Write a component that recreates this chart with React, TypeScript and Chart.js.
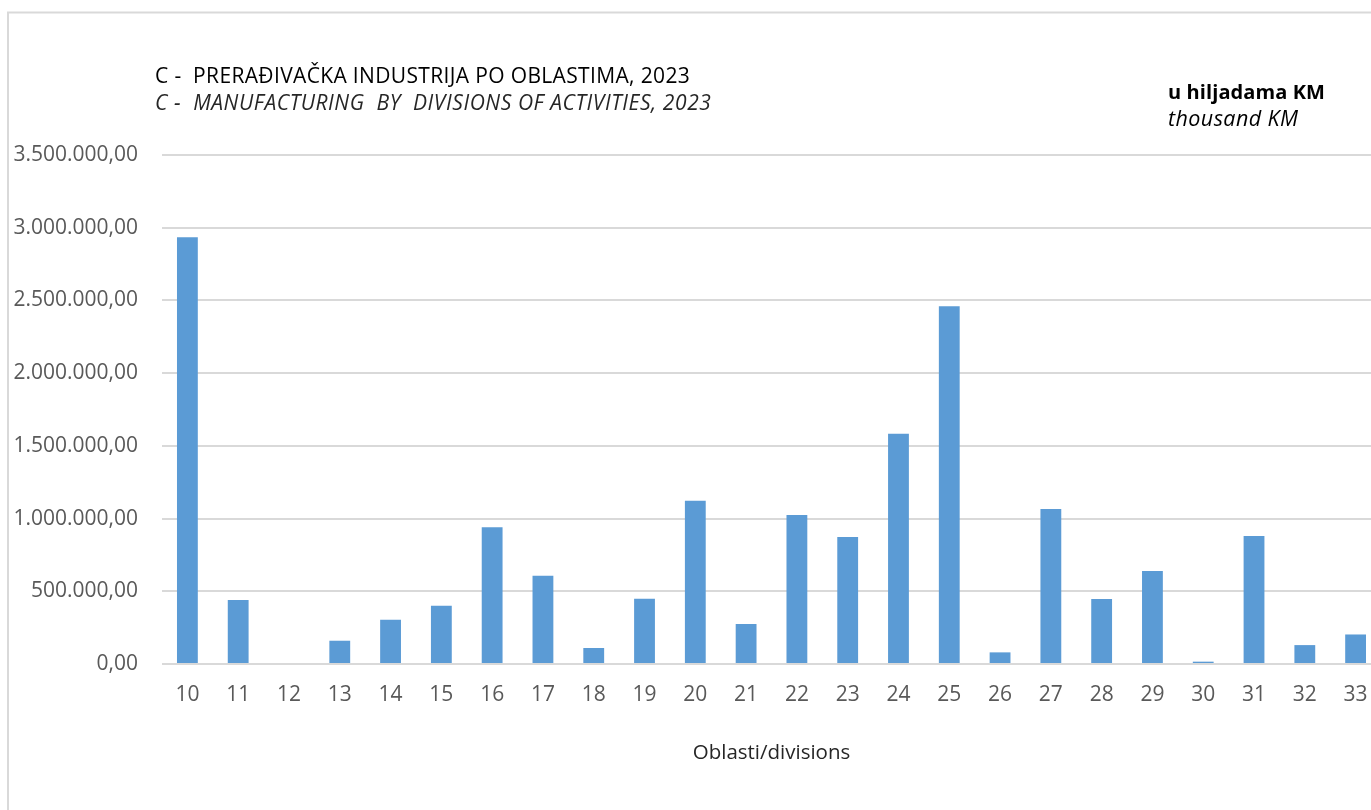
import React, { useEffect, useRef } from "react";
import { Chart, registerables } from "chart.js";

Chart.register(...registerables);

const categories = ["10", "11", "12", "13", "14", "15", "16", "17", "18", "19", "20", "21", "22", "23", "24", "25", "26", "27", "28", "29", "30", "31", "32", "33"];
const values = [2935000, 440000, 0, 160000, 304000, 401000, 941000, 607000, 110000, 449000, 1122000, 275000, 1024000, 873000, 1583000, 2460000, 80000, 1065000, 447000, 639000, 16000, 880000, 130000, 203000];
const yMax = 3500000;
const yStep = 500000;
const titleSr = "C -  PRERAĐIVAČKA INDUSTRIJA PO OBLASTIMA, 2023";
const titleEn = "C -  MANUFACTURING  BY  DIVISIONS OF ACTIVITIES, 2023";
const unitSr = "u hiljadama KM";
const unitEn = "thousand KM";
const xAxisTitle = "Oblasti/divisions";

const FONT = "'Open Sans', sans-serif";

function formatNumber(v: number): string {
  const fixed = Math.abs(v).toFixed(2);
  const [intPart, dec] = fixed.split(".");
  const grouped = intPart.replace(/\B(?=(\d{3})+(?!\d))/g, ".");
  return (v < 0 ? "-" : "") + grouped + "," + dec;
}

function fitText(ctx: any, text: string, x: number, y: number, targetWidth: number) {
  ctx.letterSpacing = "0px";
  const w = ctx.measureText(text).width;
  const n = Math.max(1, text.length - 1);
  const ls = (targetWidth - w) / n;
  ctx.letterSpacing = `${Math.max(-1, Math.min(1, ls)).toFixed(2)}px`;
  ctx.fillText(text, x, y);
  ctx.letterSpacing = "0px";
}

const headerPlugin = {
  id: "headerPlugin",
  beforeDraw(chart: any) {
    const ctx = chart.ctx;
    ctx.save();
    ctx.fillStyle = "#ffffff";
    ctx.fillRect(0, 0, chart.width, chart.height);
    ctx.strokeStyle = "#d9d9d9";
    ctx.lineWidth = 2;
    ctx.beginPath();
    ctx.moveTo(8, chart.height + 5);
    ctx.lineTo(8, 12.5);
    ctx.lineTo(chart.width + 5, 12.5);
    ctx.stroke();
    ctx.restore();
  },
  afterDraw(chart: any) {
    const ctx = chart.ctx;
    ctx.save();
    ctx.textAlign = "left";
    ctx.textBaseline = "alphabetic";
    ctx.fillStyle = "#000000";
    ctx.font = `21px ${FONT}`;
    fitText(ctx, titleSr, 155, 83, 535);
    ctx.fillStyle = "#262626";
    ctx.font = `italic 21px ${FONT}`;
    fitText(ctx, titleEn, 155, 110, 556);
    ctx.fillStyle = "#000000";
    ctx.font = `bold 20px ${FONT}`;
    fitText(ctx, unitSr, 1168, 99, 157);
    ctx.font = `italic 21.5px ${FONT}`;
    fitText(ctx, unitEn, 1168, 126, 130);
    ctx.restore();
  },
};

export default function App() {
  const canvasRef = useRef<HTMLCanvasElement | null>(null);

  useEffect(() => {
    if (!canvasRef.current) return;
    const chart = new Chart(canvasRef.current, {
      type: "bar",
      data: {
        labels: categories,
        datasets: [
          {
            data: values,
            backgroundColor: "#5b9bd5",
            borderWidth: 0,
            barPercentage: 1,
            categoryPercentage: 0.41,
          },
        ],
      },
      options: {
        animation: false,
        responsive: false,
        maintainAspectRatio: false,
        layout: { padding: { left: 0, top: 155, right: 19, bottom: 45 } },
        plugins: {
          legend: { display: false },
          tooltip: { enabled: false },
          title: { display: false },
        },
        scales: {
          x: {
            grid: { display: false, drawTicks: false },
            border: { display: false },
            ticks: {
              color: "#595959",
              font: { family: FONT, size: 21 },
              padding: 18,
              maxRotation: 0,
              autoSkip: false,
            },
            title: {
              display: true,
              text: xAxisTitle,
              color: "#262626",
              font: { family: FONT, size: 20.5 },
              padding: 0,
            },
            afterFit(scale: any) {
              scale.height = 101;
            },
          },
          y: {
            min: 0,
            max: yMax,
            grid: { color: "#d9d9d9", lineWidth: 2, drawTicks: false },
            border: { display: false },
            ticks: {
              stepSize: yStep,
              color: "#595959",
              font: { family: FONT, size: 21 },
              padding: 24,
              callback: (v: any) => formatNumber(Number(v)),
            },
            afterFit(scale: any) {
              scale.width = 162;
            },
          },
        },
      },
      plugins: [headerPlugin],
    });
    return () => chart.destroy();
  }, []);

  return (
    <div style={{ position: "fixed", left: 0, top: 0, width: 1371, height: 810, overflow: "hidden", background: "#fff" }}>
      <canvas ref={canvasRef} width={1400} height={810} style={{ position: "absolute", left: 0, top: 0, width: 1400, height: 810 }} />
    </div>
  );
}
